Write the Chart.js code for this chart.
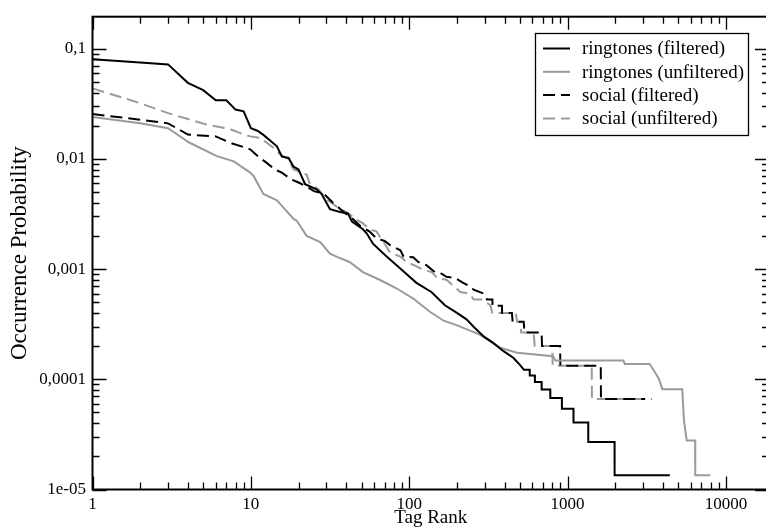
<!DOCTYPE html>
<html>
<head>
<meta charset="utf-8">
<script src="https://cdn.jsdelivr.net/npm/chart.js@4.4.0/dist/chart.umd.min.js"></script>
<style>
  html, body { margin: 0; padding: 0; background: #fff; overflow: hidden; }
  canvas { display: block; }
</style>
</head>
<body>
<canvas id="rankChart" width="790" height="531"></canvas>
<script>
// tick values and labels
const xTicks = [1, 10, 100, 1000, 10000];
const xTickLabels = ['1', '10', '100', '1000', '10000'];
const yTicks = [0.00001, 0.0001, 0.001, 0.01, 0.1];
const yTickLabels = ['1e-05', '0,0001', '0,001', '0,01', '0,1'];

const seriesNames = ['ringtones (filtered)', 'ringtones (unfiltered)', 'social (filtered)', 'social (unfiltered)'];

// ringtones (filtered)
const ringFiltRank = [1, 2, 3, 4, 5, 6, 7, 8, 9, 10, 11, 12, 13, 14.6, 15.7, 17.3, 18.6, 20, 22, 26, 28, 30, 31.6, 36.6, 41, 43.5, 51, 54, 59, 72, 90, 111, 138, 168, 200, 230, 255, 295, 339, 394, 454, 500, 530, 576, 577, 621, 622, 685, 686, 777, 778, 920, 921, 1089, 1090, 1350, 1351, 1980, 1981, 4420];
const ringFiltProb = [0.08, 0.0748, 0.072, 0.049, 0.042, 0.034, 0.034, 0.028, 0.027, 0.019, 0.018, 0.0165, 0.015, 0.013, 0.0105, 0.0102, 0.0085, 0.008, 0.0059, 0.0053, 0.0048, 0.004, 0.0035, 0.0033, 0.0032, 0.0027, 0.0023, 0.0021, 0.0017, 0.0013, 0.00098, 0.00075, 0.00062, 0.00047, 0.0004, 0.00035, 0.0003, 0.000245, 0.000214, 0.00018, 0.000157, 0.000135, 0.000122, 0.000122, 0.000108, 0.000108, 0.0000946, 0.0000946, 0.000081, 0.000081, 0.0000676, 0.0000676, 0.000054, 0.000054, 0.0000405, 0.0000405, 0.000027, 0.000027, 0.0000135, 0.0000135];

// ringtones (unfiltered)
const ringUnfRank = [1, 2, 3, 4.1, 6.1, 7.8, 9.9, 10.4, 12, 14.6, 15.3, 18.6, 19.5, 22.5, 27.4, 31.6, 35, 42, 51, 65, 83, 106, 135, 165, 199, 279, 375, 480, 811, 836, 2250, 2300, 3300, 3750, 3970, 5300, 5430, 5650, 6390, 6400, 7980];
const ringUnfProb = [0.024, 0.021, 0.019, 0.014, 0.0106, 0.0095, 0.0075, 0.007, 0.0048, 0.0042, 0.0039, 0.00285, 0.00275, 0.002, 0.00176, 0.00138, 0.00129, 0.00116, 0.00094, 0.0008, 0.00067, 0.00054, 0.00041, 0.00034, 0.00031, 0.000254, 0.000193, 0.000174, 0.000162, 0.000148, 0.000148, 0.000138, 0.000138, 0.000103, 0.0000813, 0.0000813, 0.0000422, 0.0000279, 0.0000279, 0.0000135, 0.0000135];

// social (filtered)
const socFiltRank = [1, 2, 3, 4, 6, 7.4, 9, 9.9, 11.4, 12.6, 14.2, 15.7, 18, 20, 23, 25, 29, 33, 38.5, 43.5, 50, 56, 62, 70, 76, 88, 92, 106, 114, 129, 145, 160, 172, 195, 219, 241, 255, 295, 310, 335, 336, 385, 386, 445, 450, 528, 535, 685, 690, 897, 900, 1620, 1625, 3090];
const socFiltProb = [0.0255, 0.0227, 0.021, 0.0166, 0.016, 0.014, 0.0128, 0.0122, 0.0102, 0.0092, 0.008, 0.0075, 0.0065, 0.0061, 0.0055, 0.0051, 0.0048, 0.004, 0.0033, 0.0029, 0.0024, 0.0022, 0.0019, 0.0018, 0.00164, 0.00148, 0.0013, 0.00128, 0.00116, 0.00108, 0.00094, 0.00091, 0.00085, 0.00083, 0.00075, 0.0007, 0.00065, 0.0006, 0.00053, 0.00053, 0.000465, 0.000465, 0.0004, 0.0004, 0.000332, 0.000332, 0.000266, 0.000266, 0.0002, 0.0002, 0.000133, 0.000133, 0.0000664, 0.0000664];

// social (unfiltered)
const socUnfRank = [1, 2, 3, 5.3, 7.4, 8.5, 9.9, 11.4, 12.6, 13.9, 15.3, 17.3, 18.6, 22.5, 23.6, 26.7, 30, 33, 36.6, 40, 46.6, 51, 56, 62, 70, 76, 88, 96, 108, 123, 139, 150, 172, 210, 240, 255, 288, 325, 335, 470, 480, 500, 510, 610, 620, 800, 805, 1420, 1425, 3420];
const socUnfProb = [0.0436, 0.032, 0.026, 0.0204, 0.0186, 0.0172, 0.016, 0.0155, 0.014, 0.0126, 0.011, 0.0099, 0.008, 0.0072, 0.0059, 0.0053, 0.0043, 0.0039, 0.0035, 0.0033, 0.0028, 0.0026, 0.0023, 0.0022, 0.0017, 0.0014, 0.0013, 0.00116, 0.00108, 0.00098, 0.00094, 0.00083, 0.0008, 0.00062, 0.0006, 0.00053, 0.00053, 0.00047, 0.0004, 0.0004, 0.000332, 0.000332, 0.000266, 0.000266, 0.0002, 0.0002, 0.000133, 0.000133, 0.0000664, 0.0000664];

const GRAY = '#9a9a9a';
const FONT = "'Liberation Serif', 'DejaVu Serif', serif";

function toPoints(ranks, probs) {
    return ranks.map((r, i) => ({x: r, y: probs[i]}));
}

function makeSet(label, ranks, probs, color, dashed) {
    return {
        label: label,
        data: toPoints(ranks, probs),
        borderColor: color,
        backgroundColor: color,
        borderWidth: 2,
        borderDash: dashed ? [12, 6] : [],
        pointRadius: 0,
        showLine: true,
        tension: 0
    };
}

// frame with inward ticks on all four sides
const frameTicks = {
    id: 'frameTicks',
    afterDraw(chart) {
        const ctx = chart.ctx;
        const a = chart.chartArea;
        const xs = chart.scales.x;
        const ys = chart.scales.y;
        ctx.save();
        ctx.strokeStyle = '#000';
        ctx.lineWidth = 1.3;
        ctx.beginPath();
        for (let d = 1; d <= 10000; d *= 10) {
            for (let m = 1; m <= 9; m++) {
                let v = m * d;
                if (v < xs.min || v > xs.max) continue;
                let px = Math.round(xs.getPixelForValue(v)) + 0.5;
                let len = m === 1 ? 13 : 7;
                ctx.moveTo(px, a.bottom); ctx.lineTo(px, a.bottom - len);
                ctx.moveTo(px, a.top); ctx.lineTo(px, a.top + len);
            }
        }
        for (let d = 0.00001; d <= 0.11; d *= 10) {
            for (let m = 1; m <= 9; m++) {
                let v = m * d;
                if (v < ys.min * 0.999 || v > ys.max) continue;
                let py = Math.round(ys.getPixelForValue(v)) + 0.5;
                let len = m === 1 ? 14 : 7;
                ctx.moveTo(a.left, py); ctx.lineTo(a.left + len, py);
                ctx.moveTo(a.right, py); ctx.lineTo(a.right - len, py);
            }
        }
        ctx.stroke();
        ctx.lineWidth = 2;
        ctx.strokeRect(a.left, a.top, a.right - a.left, a.bottom - a.top);
        ctx.restore();
    }
};

// boxed legend inside the plot, top right
const boxLegend = {
    id: 'boxLegend',
    afterDraw(chart) {
        const ctx = chart.ctx;
        const left = 535, top = 33, right = 748, bottom = 135;
        ctx.save();
        ctx.fillStyle = '#fff';
        ctx.fillRect(left, top, right - left, bottom - top);
        ctx.strokeStyle = '#000';
        ctx.lineWidth = 1.3;
        ctx.strokeRect(left + 0.5, top + 0.5, right - left, bottom - top);
        ctx.font = '19px ' + FONT;
        ctx.textBaseline = 'middle';
        ctx.textAlign = 'left';
        chart.data.datasets.forEach((ds, i) => {
            let yy = 48.5 + i * 23.3;
            ctx.strokeStyle = ds.borderColor;
            ctx.lineWidth = 2;
            ctx.setLineDash(ds.borderDash);
            ctx.beginPath();
            ctx.moveTo(543, yy);
            ctx.lineTo(570, yy);
            ctx.stroke();
            ctx.setLineDash([]);
            ctx.fillStyle = '#000';
            ctx.fillText(ds.label, 582, yy + 1);
        });
        ctx.restore();
    }
};

const ctx = document.getElementById('rankChart');

new Chart(ctx, {
    type: 'scatter',
    data: {
        datasets: [
            makeSet(seriesNames[0], ringFiltRank, ringFiltProb, '#000', false),
            makeSet(seriesNames[1], ringUnfRank, ringUnfProb, GRAY, false),
            makeSet(seriesNames[2], socFiltRank, socFiltProb, '#000', true),
            makeSet(seriesNames[3], socUnfRank, socUnfProb, GRAY, true)
        ]
    },
    options: {
        responsive: false,
        animation: false,
        devicePixelRatio: 1,
        layout: { padding: { left: 0, top: 13, right: 21, bottom: 0 } },
        plugins: {
            legend: { display: false },
            tooltip: { enabled: false }
        },
        scales: {
            x: {
                type: 'logarithmic',
                min: 1,
                max: 18700,
                grid: { display: false, drawTicks: false },
                border: { display: false },
                afterBuildTicks: (scale) => { scale.ticks = xTicks.map(v => ({value: v})); },
                afterFit: (scale) => { scale.height = 41.5; },
                ticks: {
                    autoSkip: false,
                    maxRotation: 0,
                    padding: 5,
                    color: '#000',
                    font: { family: FONT, size: 17 },
                    callback: (v, i) => xTickLabels[i]
                },
                title: {
                    display: true,
                    text: 'Tag Rank',
                    color: '#000',
                    font: { family: FONT, size: 19 },
                    padding: { top: 0, bottom: 2 }
                }
            },
            y: {
                type: 'logarithmic',
                min: 0.00001,
                max: 0.195,
                grid: { display: false, drawTicks: false },
                border: { display: false },
                afterBuildTicks: (scale) => { scale.ticks = yTicks.map(v => ({value: v})); },
                afterFit: (scale) => { scale.width = 92.5; },
                ticks: {
                    autoSkip: false,
                    padding: 6.5,
                    color: '#000',
                    font: { family: FONT, size: 17 },
                    callback: (v, i) => yTickLabels[i]
                },
                title: {
                    display: true,
                    text: 'Occurrence Probability',
                    color: '#000',
                    font: { family: FONT, size: 23 },
                    padding: { top: 6, bottom: 0 }
                }
            }
        }
    },
    plugins: [frameTicks, boxLegend]
});
</script>
</body>
</html>
